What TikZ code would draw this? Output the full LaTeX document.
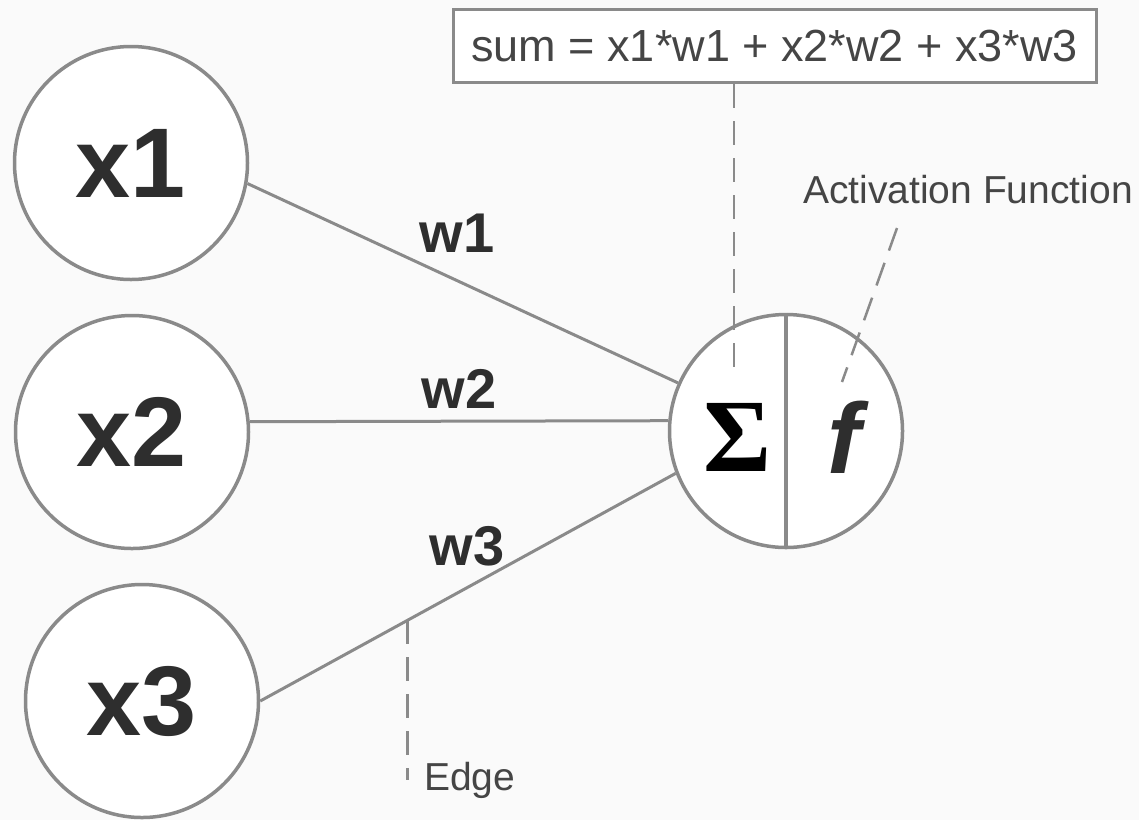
\documentclass[tikz,border=0pt]{standalone}
\usepackage{fontspec}
\setmainfont{Liberation Sans}
\newfontfamily\sigfont{Liberation Serif}
\definecolor{lin}{HTML}{8A8A8A}
\definecolor{ink}{HTML}{2E2E2E}
\definecolor{txt}{HTML}{454545}
\definecolor{bgc}{HTML}{FAFAFA}
\tikzset{
  inp/.style={circle,draw=lin,line width=3.5pt,fill=white,minimum size=233pt,inner sep=0pt,font=\fontsize{99}{99}\selectfont\bfseries,text=ink},
  neur/.style={inp},
  wlab/.style={font=\fontsize{56}{56}\selectfont\bfseries,text=ink,inner sep=0pt},
  lab/.style={font=\fontsize{39}{39}\selectfont,text=txt,inner sep=0pt},
  wire/.style={draw=lin,line width=3pt},
  dsh/.style={draw=lin,line width=2.5pt,dash pattern=on 24pt off 13pt},
  eqbox/.style={draw=lin,line width=3pt,fill=white,minimum width=643pt,minimum height=73pt,inner sep=0pt,font=\fontsize{45}{45}\selectfont,text=txt},
}
\begin{document}
\begin{tikzpicture}[x=1pt,y=-1pt]
\path[use as bounding box,fill=bgc] (0,0) rectangle (1139,820);
% inputs and neuron
\node[inp] (x1) at (131,163) {x1};
\node[inp] (x2) at (132,432) {x2};
\node[inp] (x3) at (142,701) {x3};
\node[neur] (sum) at (786,431) {};
\draw[wire,line width=3.5pt] (sum.north) -- (sum.south);
\node[font=\fontsize{104}{104}\selectfont\sigfont\bfseries,inner sep=0pt] (sig) at (737,437) {Σ};
\node[font=\fontsize{100}{100}\selectfont\bfseries\itshape,text=ink,inner sep=0pt] (fn) at (844,437) {f};
% weighted edges
\draw[wire] (x1.-10) -- (sum.156);
\draw[wire] (x2.5) -- (sum.175);
\draw[wire] (x3.east) -- coordinate[pos=.355] (ep) (sum.201);
\node[wlab] (w1) at (457,233) {w1};
\node[wlab] (w2) at (459,389) {w2};
\node[wlab] (w3) at (467,546) {w3};
% annotations
\node[eqbox] (eq) at (774.5,46) {sum = x1*w1 + x2*w2 + x3*w3};
\coordinate (sd) at (734,372);
\draw[dsh] (eq.south -| sd) -- (sd);
\node[lab] (act) at (968,190) {Activation Function};
\coordinate (fa) at (897,228);
\coordinate (fb) at (842,382);
\draw[dsh] (fa) -- (fb);
\node[lab,anchor=base west] (edg) at (424,790) {Edge};
\draw[dsh] (ep) -- (ep |- 0,780);
\end{tikzpicture}
\end{document}
